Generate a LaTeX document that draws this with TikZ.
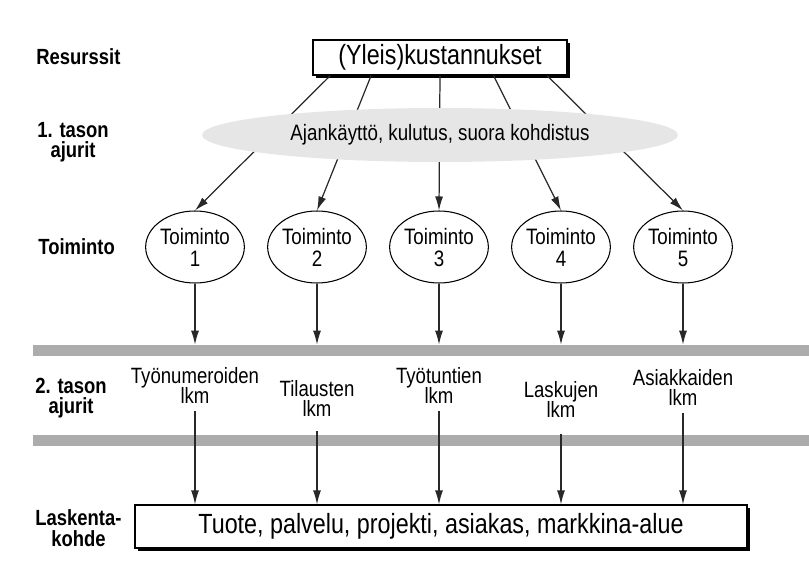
\documentclass[tikz,border=0pt]{standalone}
\usepackage{fontspec}
\setmainfont{Liberation Sans}[FakeStretch=0.84]
\usetikzlibrary{arrows.meta,shapes.geometric,shadows,calc}
\definecolor{bargray}{RGB}{172,172,172}
\definecolor{ovalgray}{RGB}{230,230,230}
\definecolor{inkgray}{RGB}{40,40,40}
\newcommand\tightskip{\lineskiplimit=-8pt\relax}

\begin{document}
\begin{tikzpicture}[x=0.02cm,y=-0.02cm,
  lvl/.style={font=\fontsize{12.5}{11.6}\selectfont\tightskip\bfseries,align=center,anchor=west,inner sep=0pt},
  bigbox/.style={draw,fill=white,line width=0.7pt,inner sep=0pt,font=\fontsize{15.8}{17}\selectfont,
    drop shadow={shadow xshift=0.06cm,shadow yshift=-0.06cm,fill=black,opacity=1}},
  act/.style={draw,ellipse,fill=white,line width=0.6pt,minimum width=1.76cm,minimum height=1.44cm,
    inner sep=0pt,align=center,font=\fontsize{12.7}{12.5}\selectfont\tightskip},
  drv/.style={align=center,inner sep=0pt,font=\fontsize{12.6}{11.4}\selectfont\tightskip},
  bar/.style={fill=bargray,inner sep=0pt,minimum height=0.22cm,minimum width=15.52cm},
  arr/.style={draw=inkgray,line width=0.7pt,-{Latex[length=2.8mm,width=1.6mm]}}
]
  \useasboundingbox (0,0) rectangle (809,561);

  % row labels
  \node[lvl] (res) at (36,57) {Resurssit};
  \node[lvl] (lvl1) at (37,142) {1. tason\\ajurit};
  \node[lvl] (lvlact) at (38,247) {Toiminto};
  \node[lvl] (lvl2) at (35,398) {2. tason\\ajurit};
  \node[lvl] (lvlobj) at (35,528) {Laskenta-\\kohde};

  % resources and activities
  \node[bigbox,minimum width=5.08cm,minimum height=0.7cm] (top) at (440,57.5) {(Yleis)kustannukset};
  \foreach \i/\x in {1/195,2/317,3/439,4/561,5/683}
    \node[act] (act\i) at (\x,247) {Toiminto\\\smash{\i}};
  \foreach \i/\s in {1/0.07,2/0.23,3/0.5,4/0.71,5/0.92}
    \draw[arr] ($(top.south west)!\s!(top.south east)$) -- (act\i.north);
  \node[ellipse,fill=ovalgray,minimum width=9.52cm,minimum height=1.08cm,inner sep=0pt,
    font=\fontsize{12.7}{12}\selectfont] (drv1) at (440,135) {Ajankäyttö, kulutus, suora kohdistus};

  % second level drivers
  \node[bar] (bar1) at (421,350.5) {};
  \node[bar] (bar2) at (421,440.5) {};
  \node[drv] (lab1) at (195,385) {Työnumeroiden\\lkm};
  \node[drv] (lab2) at (317,398) {Tilausten\\lkm};
  \node[drv] (lab3) at (439,385) {Työtuntien\\lkm};
  \node[drv] (lab4) at (561,399) {Laskujen\\lkm};
  \node[drv] (lab5) at (683,387) {Asiakkaiden\\lkm};

  \node[bigbox,minimum width=12.24cm,minimum height=0.86cm] (obj) at (441,526.5)
    {Tuote, palvelu, projekti, asiakas, markkina-alue};

  \foreach \i in {1,...,5}
    \draw[arr] (act\i.south) -- (act\i |- bar1.north);
  \foreach \i/\g in {1/8,2/15,3/8,4/17,5/8}
    \draw[arr] ($(lab\i.south)+(0,\g)$) -- (lab\i |- obj.north);
\end{tikzpicture}
\end{document}
